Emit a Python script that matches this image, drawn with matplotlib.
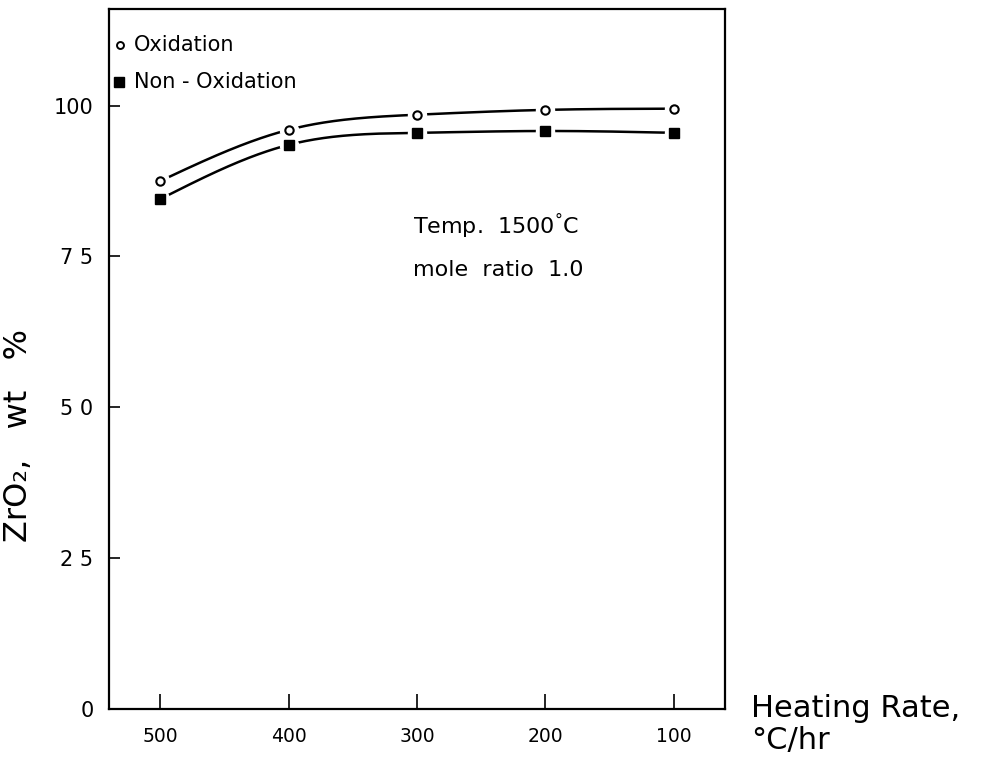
import numpy as np
import matplotlib
matplotlib.use("Agg")
import matplotlib.pyplot as plt

# Heating rate (°C/hr) and ZrO2 content (wt %)
heating_rate = [500, 400, 300, 200, 100]
oxidation = [87.5, 96.0, 98.5, 99.3, 99.5]
non_oxidation = [84.5, 93.5, 95.5, 95.8, 95.5]

x_ticks = [500, 400, 300, 200, 100]
x_ticklabels = ["500", "400", "300", "200", "100"]
y_ticks = [0, 25, 50, 75, 100]
y_ticklabels = ["0", "2 5", "5 0", "7 5", "100"]

plt.rcParams["font.family"] = ["DejaVu Sans"]


def natural_spline(x, y, xs):
    """Natural cubic spline through the points."""
    x = np.asarray(x, float)
    y = np.asarray(y, float)
    n = len(x)
    h = np.diff(x)
    A = np.zeros((n, n))
    b = np.zeros(n)
    A[0, 0] = A[-1, -1] = 1.0
    for i in range(1, n - 1):
        A[i, i - 1] = h[i - 1]
        A[i, i] = 2 * (h[i - 1] + h[i])
        A[i, i + 1] = h[i]
        b[i] = 6 * ((y[i + 1] - y[i]) / h[i] - (y[i] - y[i - 1]) / h[i - 1])
    M = np.linalg.solve(A, b)
    out = np.empty(len(xs))
    for j, xv in enumerate(xs):
        k = min(max(np.searchsorted(x, xv) - 1, 0), n - 2)
        t0 = x[k + 1] - xv
        t1 = xv - x[k]
        out[j] = (M[k] * t0**3 + M[k + 1] * t1**3) / (6 * h[k]) \
            + (y[k] / h[k] - M[k] * h[k] / 6) * t0 \
            + (y[k + 1] / h[k] - M[k + 1] * h[k] / 6) * t1
    return out


fig = plt.figure(figsize=(9.81, 7.63), dpi=100)
ax = fig.add_axes([0.111, 0.071, 0.628, 0.917])

order = np.argsort(heating_rate)
xr = np.asarray(heating_rate)[order]
xs = np.linspace(xr.min(), xr.max(), 400)

for series in (oxidation, non_oxidation):
    yr = np.asarray(series)[order]
    ax.plot(xs, natural_spline(xr, yr, xs), color="black", lw=1.8, zorder=2,
            solid_capstyle="butt")
    # white halo leaves a gap between the curve and each symbol
    ax.plot(heating_rate, series, ls="none", marker="o", ms=13,
            mfc="white", mec="white", zorder=3)

ax.plot(heating_rate, oxidation, ls="none", marker="o", ms=6,
        mfc="white", mec="black", mew=1.5, zorder=4)
ax.plot(heating_rate, non_oxidation, ls="none", marker="s", ms=7.5,
        mfc="black", mec="black", zorder=4)

ax.set_xlim(540, 60)
ax.set_ylim(0, 116)

ax.set_xticks(x_ticks)
ax.set_xticklabels(x_ticklabels, fontsize=13.5)
ax.set_yticks(y_ticks)
ax.set_yticklabels(y_ticklabels, fontsize=15)
ax.tick_params(axis="x", direction="in", length=11, width=1.2, pad=13,
               top=False)
ax.tick_params(axis="y", direction="in", length=8, width=1.2, pad=11,
               right=False)
for s in ax.spines.values():
    s.set_linewidth(1.6)

# legend drawn as symbols and text inside the frame
ax.plot([0.018], [0.949], transform=ax.transAxes, marker="o", ms=5,
        mfc="white", mec="black", mew=1.4, ls="none", clip_on=False)
ax.text(0.040, 0.949, "Oxidation", transform=ax.transAxes, fontsize=15,
        va="center", ha="left")
ax.plot([0.016], [0.896], transform=ax.transAxes, marker="s", ms=7,
        mfc="black", mec="black", ls="none", clip_on=False)
ax.text(0.040, 0.896, "Non - Oxidation", transform=ax.transAxes, fontsize=15,
        va="center", ha="left")

ax.text(0.493, 0.689, "Temp.  1500$^{\\degree}$C", transform=ax.transAxes,
        fontsize=16, va="center", ha="left")
ax.text(0.493, 0.627, "mole  ratio  1.0", transform=ax.transAxes,
        fontsize=16, va="center", ha="left")

ax.set_ylabel("ZrO\u2082,   wt   %", fontsize=23)
ax.yaxis.set_label_coords(-0.122, 0.391)

fig.text(0.766, 0.071, "Heating Rate,", fontsize=22, va="center", ha="left")
fig.text(0.766, 0.030, "\u00b0C/hr", fontsize=22, va="center", ha="left")

fig.savefig("out.png", dpi=100)
